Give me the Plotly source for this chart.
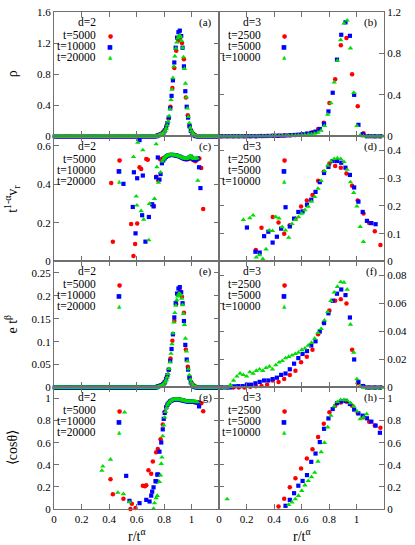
import plotly.graph_objects as go

RED, BLUE, GREEN = '#ff0000', '#0000ff', '#00dd00'
FONT = 'Liberation Serif'

LEG2 = ['t=5000', 't=10000', 't=20000']
LEG3 = ['t=2500', 't=5000', 't=10000']
X_TICKS = [0, 0.2, 0.4, 0.6, 0.8, 1.0]

# ---------------- d = 2 ----------------
R2_RED = [0.007, 0.021, 0.035, 0.049, 0.063, 0.077, 0.091, 0.105, 0.119, 0.133,
          0.147, 0.161, 0.175, 0.189, 0.203, 0.217, 0.231, 0.245, 0.259, 0.273,
          0.287, 0.301, 0.315, 0.329, 0.343, 0.357, 0.371, 0.385, 0.399, 0.413,
          0.427, 0.441, 0.455, 0.469, 0.483, 0.497, 0.511, 0.525, 0.539, 0.553,
          0.567, 0.581, 0.595, 0.609, 0.623, 0.637, 0.651, 0.665, 0.679, 0.693,
          0.707, 0.721, 0.735, 0.749, 0.763, 0.777, 0.791, 0.805, 0.819, 0.833,
          0.847, 0.861, 0.875, 0.889, 0.903, 0.917, 0.931, 0.945, 0.959, 0.973,
          0.987, 1.001, 1.015, 1.029, 1.043, 1.057, 1.071, 1.085, 1.099, 1.113,
          1.127, 1.141, 1.155, 1.169, 1.183, 1.197]
R2_BLUE = [0.005, 0.015, 0.025, 0.035, 0.045, 0.055, 0.065, 0.075, 0.085, 0.095,
           0.105, 0.115, 0.125, 0.135, 0.145, 0.155, 0.165, 0.175, 0.185, 0.195,
           0.205, 0.215, 0.225, 0.235, 0.245, 0.255, 0.265, 0.275, 0.285, 0.295,
           0.305, 0.315, 0.325, 0.335, 0.345, 0.355, 0.365, 0.375, 0.385, 0.395,
           0.405, 0.415, 0.425, 0.435, 0.445, 0.455, 0.465, 0.475, 0.485, 0.495,
           0.505, 0.515, 0.525, 0.535, 0.545, 0.555, 0.565, 0.575, 0.585, 0.595,
           0.605, 0.615, 0.625, 0.635, 0.645, 0.655, 0.665, 0.675, 0.685, 0.695,
           0.705, 0.715, 0.725, 0.735, 0.745, 0.755, 0.765, 0.775, 0.785, 0.795,
           0.805, 0.815, 0.825, 0.835, 0.845, 0.855, 0.865, 0.875, 0.885, 0.895,
           0.905, 0.915, 0.925, 0.935, 0.945, 0.955, 0.965, 0.975, 0.985, 0.995,
           1.005, 1.015, 1.025, 1.035, 1.045, 1.055, 1.065, 1.075, 1.085, 1.095,
           1.105, 1.115, 1.125, 1.135, 1.145, 1.155, 1.165, 1.175, 1.185, 1.195]
R2_GREEN = [0.004, 0.011, 0.018, 0.025, 0.032, 0.039, 0.046, 0.053, 0.060, 0.067,
            0.074, 0.081, 0.088, 0.095, 0.102, 0.109, 0.116, 0.123, 0.130, 0.137,
            0.144, 0.151, 0.158, 0.165, 0.172, 0.179, 0.186, 0.193, 0.200, 0.207,
            0.214, 0.221, 0.228, 0.235, 0.242, 0.249, 0.256, 0.263, 0.270, 0.277,
            0.284, 0.291, 0.298, 0.305, 0.312, 0.319, 0.326, 0.333, 0.340, 0.347,
            0.354, 0.361, 0.368, 0.375, 0.382, 0.389, 0.396, 0.403, 0.410, 0.417,
            0.424, 0.431, 0.438, 0.445, 0.452, 0.459, 0.466, 0.473, 0.480, 0.487,
            0.494, 0.501, 0.508, 0.515, 0.522, 0.529, 0.536, 0.543, 0.550, 0.557,
            0.564, 0.571, 0.578, 0.585, 0.592, 0.599, 0.606, 0.613, 0.620, 0.627,
            0.634, 0.641, 0.648, 0.655, 0.662, 0.669, 0.676, 0.683, 0.690, 0.697,
            0.704, 0.711, 0.718, 0.725, 0.732, 0.739, 0.746, 0.753, 0.760, 0.767,
            0.774, 0.781, 0.788, 0.795, 0.802, 0.809, 0.816, 0.823, 0.830, 0.837,
            0.844, 0.851, 0.858, 0.865, 0.872, 0.879, 0.886, 0.893, 0.900, 0.907,
            0.914, 0.921, 0.928, 0.935, 0.942, 0.949, 0.956, 0.963, 0.970, 0.977,
            0.984, 0.991, 0.998, 1.005, 1.012, 1.019, 1.026, 1.033, 1.040, 1.047,
            1.054, 1.061, 1.068, 1.075, 1.082, 1.089, 1.096, 1.103, 1.110, 1.117,
            1.124, 1.131, 1.138, 1.145, 1.152, 1.159, 1.166, 1.173, 1.180, 1.187,
            1.194]

# panel (a): rho, d=2
A2_RED = [0, 0, 0, 0, 0, 0, 0, 0, 0, 0,
          0, 0, 0, 0, 0, 0, 0, 0, 0, 0,
          0, 0, 0, 0, 0, 0, 0, 0, 0, 0,
          0, 0, 0, 0, 0, 0, 0, 0, 0, 0,
          0, 0, 0, 0, 0, 0, 0, 0, 0, 0,
          0, 0, 0, 0.01, 0.02, 0.03, 0.05, 0.08, 0.14, 0.23,
          0.38, 0.62, 0.88, 1.10, 1.23, 1.27, 1.20, 0.99, 0.50, 0.27,
          0.14, 0.06, 0.03, 0.01, 0, 0, 0, 0, 0, 0,
          0, 0, 0, 0, 0, 0]
A2_BLUE = [0, 0, 0, 0, 0, 0, 0, 0, 0, 0,
           0, 0, 0, 0, 0, 0, 0, 0, 0, 0,
           0, 0, 0, 0, 0, 0, 0, 0, 0, 0,
           0, 0, 0, 0, 0, 0, 0, 0, 0, 0,
           0, 0, 0, 0, 0, 0, 0, 0, 0, 0,
           0, 0, 0, 0, 0, 0, 0, 0, 0, 0,
           0, 0, 0, 0, 0, 0, 0, 0, 0, 0,
           0, 0, 0, 0, 0, 0.01, 0.015, 0.02, 0.03, 0.04,
           0.07, 0.11, 0.17, 0.24, 0.36, 0.52, 0.72, 0.95, 1.14, 1.27,
           1.34, 1.36, 1.29, 1.14, 0.90, 0.58, 0.38, 0.24, 0.13, 0.07,
           0.035, 0.015, 0.005, 0, 0, 0, 0, 0, 0, 0,
           0, 0, 0, 0, 0, 0, 0, 0, 0, 0]
A2_GREEN = [0, 0, 0, 0, 0, 0, 0, 0, 0, 0,
            0, 0, 0, 0, 0, 0, 0, 0, 0, 0,
            0, 0, 0, 0, 0, 0, 0, 0, 0, 0,
            0, 0, 0, 0, 0, 0, 0, 0, 0, 0,
            0, 0, 0, 0, 0, 0, 0, 0, 0, 0,
            0, 0, 0, 0, 0, 0, 0, 0, 0, 0,
            0, 0, 0, 0, 0, 0, 0, 0, 0, 0,
            0, 0, 0, 0, 0, 0, 0, 0, 0, 0,
            0, 0, 0, 0, 0, 0, 0, 0, 0, 0,
            0, 0, 0, 0, 0, 0, 0, 0, 0, 0,
            0, 0, 0, 0, 0, 0, 0, 0, 0.01, 0.015,
            0.02, 0.025, 0.03, 0.04, 0.055, 0.075, 0.10, 0.14, 0.19, 0.26,
            0.35, 0.47, 0.60, 0.75, 0.90, 1.03, 1.13, 1.21, 1.26, 1.29,
            1.30, 1.28, 1.23, 1.14, 1.02, 0.87, 0.68, 0.50, 0.36, 0.25,
            0.17, 0.11, 0.07, 0.045, 0.025, 0.015, 0.008, 0.004, 0, 0,
            0, 0, 0, 0, 0, 0, 0, 0, 0, 0,
            0, 0, 0, 0, 0, 0, 0, 0, 0, 0,
            0]

# panel (e): e t^beta, d=2
E2_RED = [0, 0, 0, 0, 0, 0, 0, 0, 0, 0,
          0, 0, 0, 0, 0, 0, 0, 0, 0, 0,
          0, 0, 0, 0, 0, 0, 0, 0, 0, 0,
          0, 0, 0, 0, 0, 0, 0, 0, 0, 0,
          0, 0, 0, 0, 0, 0, 0, 0, 0, 0,
          0, 0, 0, 0.002, 0.003, 0.005, 0.008, 0.013, 0.023, 0.038,
          0.063, 0.102, 0.145, 0.182, 0.203, 0.210, 0.198, 0.163, 0.083, 0.045,
          0.023, 0.010, 0.005, 0.002, 0, 0, 0, 0, 0, 0,
          0, 0, 0, 0, 0, 0]
E2_BLUE = [0, 0, 0, 0, 0, 0, 0, 0, 0, 0,
           0, 0, 0, 0, 0, 0, 0, 0, 0, 0,
           0, 0, 0, 0, 0, 0, 0, 0, 0, 0,
           0, 0, 0, 0, 0, 0, 0, 0, 0, 0,
           0, 0, 0, 0, 0, 0, 0, 0, 0, 0,
           0, 0, 0, 0, 0, 0, 0, 0, 0, 0,
           0, 0, 0, 0, 0, 0, 0, 0, 0, 0,
           0, 0, 0, 0, 0, 0.002, 0.003, 0.004, 0.005, 0.007,
           0.011, 0.018, 0.027, 0.039, 0.058, 0.084, 0.116, 0.153, 0.184, 0.205,
           0.216, 0.219, 0.208, 0.184, 0.145, 0.093, 0.061, 0.039, 0.021, 0.011,
           0.006, 0.002, 0.001, 0, 0, 0, 0, 0, 0, 0,
           0, 0, 0, 0, 0, 0, 0, 0, 0, 0]
E2_GREEN = [0, 0, 0, 0, 0, 0, 0, 0, 0, 0,
            0, 0, 0, 0, 0, 0, 0, 0, 0, 0,
            0, 0, 0, 0, 0, 0, 0, 0, 0, 0,
            0, 0, 0, 0, 0, 0, 0, 0, 0, 0,
            0, 0, 0, 0, 0, 0, 0, 0, 0, 0,
            0, 0, 0, 0, 0, 0, 0, 0, 0, 0,
            0, 0, 0, 0, 0, 0, 0, 0, 0, 0,
            0, 0, 0, 0, 0, 0, 0, 0, 0, 0,
            0, 0, 0, 0, 0, 0, 0, 0, 0, 0,
            0, 0, 0, 0, 0, 0, 0, 0, 0, 0,
            0, 0, 0, 0, 0, 0, 0, 0, 0.002, 0.002,
            0.003, 0.004, 0.005, 0.006, 0.009, 0.012, 0.016, 0.022, 0.030, 0.041,
            0.055, 0.074, 0.095, 0.118, 0.142, 0.163, 0.179, 0.191, 0.199, 0.204,
            0.205, 0.202, 0.194, 0.180, 0.161, 0.137, 0.107, 0.079, 0.057, 0.040,
            0.027, 0.017, 0.011, 0.007, 0.004, 0.002, 0.001, 0.001, 0, 0,
            0, 0, 0, 0, 0, 0, 0, 0, 0, 0,
            0, 0, 0, 0, 0, 0, 0, 0, 0, 0,
            0]

# panel (c): t^(1-alpha) v_r, d=2
C2_RED_X = [0.416, 0.428, 0.561, 0.578, 0.590, 0.605, 0.622, 0.634, 0.671, 0.682,
            0.726, 0.743, 0.758, 0.772, 0.791, 0.805, 0.819, 0.833, 0.847, 0.861,
            0.875, 0.889, 0.903, 0.917, 0.931, 0.945, 0.959, 0.973, 0.987, 1.001,
            1.015, 1.029, 1.043, 1.057, 1.071, 1.085]
C2_RED_Y = [0.407, 0.103, 0.194, 0.029, 0.091, 0.197, 0.489, 0.480, 0.532, 0.528,
            0.288, 0.440, 0.420, 0.530, 0.535, 0.540, 0.548, 0.552, 0.553, 0.553,
            0.552, 0.550, 0.547, 0.542, 0.538, 0.533, 0.530, 0.532, 0.536, 0.532,
            0.525, 0.520, 0.530, 0.535, 0.485, 0.273]
C2_BLUE_X = [0.505, 0.573, 0.581, 0.593, 0.605, 0.622, 0.641, 0.646, 0.665, 0.690,
             0.714, 0.724, 0.743, 0.755, 0.767, 0.775, 0.785, 0.795, 0.805, 0.815,
             0.825, 0.835, 0.845, 0.855, 0.865, 0.875, 0.885, 0.895, 0.905, 0.915,
             0.925, 0.935, 0.945, 0.955, 0.965, 0.975, 0.985, 0.995, 1.005, 1.015,
             1.025, 1.035, 1.045, 1.055, 1.065]
C2_BLUE_Y = [0.403, 0.283, 0.463, 0.146, 0.432, 0.630, 0.240, 0.446, 0.103, 0.231,
             0.297, 0.286, 0.437, 0.540, 0.425, 0.454, 0.510, 0.525, 0.535, 0.543,
             0.548, 0.551, 0.553, 0.553, 0.553, 0.552, 0.551, 0.549, 0.547, 0.544,
             0.541, 0.537, 0.534, 0.532, 0.531, 0.534, 0.540, 0.544, 0.538, 0.530,
             0.527, 0.530, 0.535, 0.489, 0.381]
C2_GREEN_X = [0.578, 0.598, 0.603, 0.609, 0.634, 0.646, 0.652, 0.690, 0.694, 0.731,
              0.743, 0.748, 0.760, 0.775, 0.788, 0.795, 0.802, 0.809, 0.816, 0.823,
              0.830, 0.837, 0.844, 0.851, 0.858, 0.865, 0.872, 0.879, 0.886, 0.893,
              0.900, 0.907, 0.914, 0.921, 0.928, 0.935, 0.942, 0.949, 0.956, 0.963,
              0.970, 0.977, 0.984, 0.991, 0.998, 1.005, 1.012, 1.019, 1.026, 1.033,
              1.040, 1.046]
C2_GREEN_Y = [0.543, 0.338, 0.291, 0.617, 0.262, 0.578, 0.218, 0.111, 0.300, 0.326,
              0.609, 0.490, 0.410, 0.463, 0.520, 0.530, 0.537, 0.543, 0.547, 0.550,
              0.552, 0.553, 0.554, 0.554, 0.554, 0.553, 0.553, 0.552, 0.551, 0.550,
              0.548, 0.547, 0.545, 0.543, 0.541, 0.539, 0.537, 0.535, 0.534, 0.534,
              0.536, 0.540, 0.545, 0.548, 0.546, 0.540, 0.535, 0.533, 0.534, 0.536,
              0.537, 0.420]

# panel (g): <cos theta>, d=2
G2_RED_X = [0.411, 0.428, 0.505, 0.556, 0.566, 0.593, 0.646, 0.661, 0.671, 0.687,
            0.707, 0.719, 0.743, 0.755, 0.775, 0.791, 0.805, 0.819, 0.833, 0.847,
            0.861, 0.875, 0.889, 0.903, 0.917, 0.931, 0.945, 0.959, 0.973, 0.987,
            1.001, 1.015, 1.029, 1.043, 1.057, 1.071, 1.085]
G2_RED_Y = [0.270, 0.134, 0.092, 0.000, 0.047, 0.009, 0.210, 0.205, 0.216, 0.350,
            0.320, 0.430, 0.513, 0.543, 0.632, 0.766, 0.880, 0.930, 0.960, 0.975,
            0.985, 0.990, 0.993, 0.993, 0.990, 0.985, 0.980, 0.975, 0.972, 0.970,
            0.970, 0.968, 0.966, 0.965, 0.962, 0.958, 0.884]
G2_BLUE_X = [0.525, 0.549, 0.622, 0.671, 0.695, 0.707, 0.714, 0.724, 0.738, 0.745,
             0.751, 0.757, 0.767, 0.780, 0.791, 0.798, 0.805, 0.815, 0.825, 0.835,
             0.845, 0.855, 0.865, 0.875, 0.885, 0.895, 0.905, 0.915, 0.925, 0.935,
             0.945, 0.955, 0.965, 0.975, 0.985, 0.995, 1.005, 1.015, 1.025, 1.035,
             1.045, 1.055]
G2_BLUE_Y = [0.300, 0.074, 0.053, 0.083, 0.068, 0.121, 0.157, 0.196, 0.252, 0.250,
             0.312, 0.312, 0.519, 0.602, 0.721, 0.816, 0.870, 0.920, 0.945, 0.962,
             0.974, 0.982, 0.988, 0.991, 0.993, 0.993, 0.992, 0.989, 0.986, 0.983,
             0.980, 0.977, 0.975, 0.973, 0.972, 0.972, 0.971, 0.970, 0.968, 0.966,
             0.963, 0.929]
G2_GREEN_X = [0.348, 0.355, 0.411, 0.464, 0.505, 0.513, 0.549, 0.724, 0.731, 0.743,
              0.751, 0.767, 0.775, 0.780, 0.785, 0.791, 0.798, 0.805, 0.812, 0.819,
              0.826, 0.833, 0.840, 0.847, 0.854, 0.861, 0.868, 0.875, 0.882, 0.889,
              0.896, 0.903, 0.910, 0.917, 0.924, 0.931, 0.938, 0.945, 0.952, 0.959,
              0.966, 0.973, 0.980, 0.987, 0.994, 1.001, 1.008, 1.015, 1.022, 1.029,
              1.036, 1.043]
G2_GREEN_Y = [0.347, 0.386, 0.448, 0.148, 0.136, 0.875, 0.062, 0.003, 0.053, 0.098,
              0.120, 0.246, 0.305, 0.410, 0.468, 0.660, 0.757, 0.830, 0.880, 0.915,
              0.940, 0.958, 0.970, 0.978, 0.984, 0.988, 0.991, 0.993, 0.994, 0.995,
              0.995, 0.994, 0.993, 0.991, 0.989, 0.987, 0.985, 0.982, 0.980, 0.978,
              0.976, 0.975, 0.974, 0.974, 0.974, 0.975, 0.975, 0.974, 0.973, 0.972,
              0.970, 0.968]

# ---------------- d = 3 ----------------
R3_RED = [0.021, 0.062, 0.103, 0.144, 0.185, 0.227, 0.268, 0.309, 0.350, 0.391,
          0.433, 0.474, 0.515, 0.556, 0.597, 0.639, 0.680, 0.721, 0.762, 0.803,
          0.845, 0.886, 0.927, 0.968, 1.009, 1.051, 1.092, 1.133, 1.174]
R3_BLUE = [0.016, 0.047, 0.078, 0.109, 0.140, 0.172, 0.203, 0.234, 0.265, 0.296,
           0.328, 0.359, 0.390, 0.421, 0.452, 0.484, 0.515, 0.546, 0.577, 0.608,
           0.640, 0.671, 0.702, 0.733, 0.764, 0.796, 0.827, 0.858, 0.889, 0.920,
           0.952, 0.983, 1.014, 1.045, 1.076, 1.108, 1.139, 1.170]
R3_GREEN = [0.012, 0.035, 0.059, 0.083, 0.106, 0.130, 0.153, 0.177, 0.201, 0.224,
            0.248, 0.271, 0.295, 0.319, 0.342, 0.366, 0.389, 0.413, 0.437, 0.460,
            0.484, 0.507, 0.531, 0.555, 0.578, 0.602, 0.625, 0.649, 0.673, 0.696,
            0.720, 0.743, 0.767, 0.791, 0.814, 0.838, 0.861, 0.885, 0.909, 0.932,
            0.956, 0.980, 1.003, 1.027, 1.050, 1.074, 1.098, 1.121, 1.145, 1.168,
            1.192]

# panel (b): rho, d=3
B3_RED = [0, 0, 0, 0, 0, 0.001, 0.001, 0.002, 0.003, 0.004,
          0.005, 0.007, 0.009, 0.012, 0.017, 0.025, 0.038, 0.070, 0.130, 0.320,
          0.550, 0.880, 0.950, 0.600, 0.290, 0.030, 0.002, 0, 0]
B3_BLUE = [0, 0, 0, 0, 0, 0, 0.001, 0.001, 0.001, 0.002,
           0.002, 0.003, 0.004, 0.005, 0.006, 0.008, 0.010, 0.012, 0.015, 0.019,
           0.025, 0.032, 0.045, 0.070, 0.120, 0.240, 0.420, 0.740, 0.980, 1.100,
           0.970, 0.400, 0.110, 0.020, 0, 0, 0, 0]
B3_GREEN = [0, 0, 0, 0, 0, 0, 0, 0, 0.001, 0.001,
            0.001, 0.001, 0.002, 0.002, 0.002, 0.003, 0.003, 0.004, 0.004, 0.005,
            0.006, 0.007, 0.008, 0.009, 0.010, 0.012, 0.014, 0.017, 0.020, 0.026,
            0.035, 0.055, 0.100, 0.210, 0.320, 0.520, 0.730, 0.930, 1.090, 1.120,
            0.850, 0.420, 0.100, 0.010, 0, 0, 0, 0, 0, 0,
            0]

# panel (f): e t^beta, d=3
F3_RED = [0, 0, 0, 0, 0, 0.0005, 0.0008, 0.001, 0.002, 0.005,
          0.004, 0.006, 0.009, 0.012, 0.018, 0.022, 0.027, 0.038, 0.046, 0.055,
          0.062, 0.063, 0.060, 0.027, 0.003, 0.001, 0, 0, 0]
F3_BLUE = [0, 0, 0, 0.0008, 0.001, 0.001, 0.002, 0.002, 0.003, 0.004,
           0.005, 0.005, 0.006, 0.007, 0.009, 0.010, 0.013, 0.017, 0.021, 0.024,
           0.026, 0.030, 0.033, 0.040, 0.046, 0.053, 0.062, 0.067, 0.070, 0.066,
           0.050, 0.020, 0.004, 0.001, 0, 0, 0, 0]
F3_GREEN = [0, 0, 0, 0.002, 0.005, 0.008, 0.010, 0.009, 0.008, 0.011,
            0.010, 0.012, 0.013, 0.012, 0.014, 0.015, 0.013, 0.016, 0.018, 0.019,
            0.021, 0.022, 0.023, 0.024, 0.025, 0.027, 0.028, 0.030, 0.032, 0.035,
            0.039, 0.042, 0.048, 0.054, 0.062, 0.068, 0.072, 0.0755, 0.075, 0.070,
            0.045, 0.025, 0.006, 0.001, 0, 0, 0, 0, 0, 0,
            0]

# panel (d): t^(1-alpha) v_r, d=3
D3_RED_X = [0.268, 0.309, 0.391, 0.433, 0.474, 0.515, 0.556, 0.597, 0.639, 0.680,
            0.721, 0.762, 0.803, 0.845, 0.886, 0.927, 0.968, 1.009, 1.051, 1.092,
            1.133, 1.174]
D3_RED_Y = [0.041, 0.121, 0.160, 0.140, 0.100, 0.130, 0.154, 0.198, 0.219, 0.239,
            0.290, 0.322, 0.352, 0.343, 0.337, 0.316, 0.272, 0.219, 0.172, 0.138,
            0.109, 0.059]
D3_BLUE_X = [0.203, 0.265, 0.296, 0.328, 0.359, 0.390, 0.421, 0.452, 0.484, 0.515,
             0.546, 0.577, 0.608, 0.640, 0.671, 0.702, 0.733, 0.764, 0.796, 0.827,
             0.858, 0.889, 0.920, 0.952, 0.983, 1.014, 1.045, 1.076, 1.108, 1.139]
D3_BLUE_Y = [0.122, 0.035, 0.032, 0.091, 0.107, 0.068, 0.089, 0.118, 0.195, 0.126,
             0.154, 0.178, 0.180, 0.204, 0.222, 0.250, 0.285, 0.318, 0.340, 0.361,
             0.361, 0.355, 0.337, 0.311, 0.266, 0.215, 0.178, 0.146, 0.138, 0.134]
D3_GREEN_X = [0.177, 0.224, 0.248, 0.271, 0.295, 0.319, 0.342, 0.366, 0.389, 0.413,
              0.437, 0.460, 0.484, 0.507, 0.531, 0.555, 0.578, 0.602, 0.625, 0.649,
              0.673, 0.696, 0.720, 0.743, 0.767, 0.791, 0.814, 0.838, 0.861, 0.885,
              0.909, 0.932, 0.956, 0.980, 1.003, 1.027, 1.050]
D3_GREEN_Y = [0.150, 0.156, 0.166, 0.015, 0.023, 0.009, 0.044, 0.112, 0.110, 0.160,
              0.155, 0.124, 0.112, 0.086, 0.135, 0.150, 0.160, 0.172, 0.185, 0.197,
              0.215, 0.232, 0.262, 0.290, 0.325, 0.345, 0.360, 0.369, 0.371, 0.369,
              0.358, 0.330, 0.285, 0.247, 0.198, 0.125, 0.071]

# panel (h): <cos theta>, d=3
H3_RED_X = [0.433, 0.474, 0.515, 0.556, 0.597, 0.639, 0.680, 0.721, 0.762, 0.803,
            0.845, 0.886, 0.927, 0.968, 1.009, 1.051, 1.092, 1.133, 1.174]
H3_RED_Y = [0.023, 0.092, 0.197, 0.278, 0.367, 0.457, 0.540, 0.651, 0.771, 0.875,
            0.935, 0.964, 0.970, 0.935, 0.869, 0.830, 0.790, 0.755, 0.735]
H3_BLUE_X = [0.484, 0.515, 0.546, 0.577, 0.608, 0.640, 0.671, 0.702, 0.733, 0.764,
             0.796, 0.827, 0.858, 0.889, 0.920, 0.952, 0.983, 1.014, 1.045, 1.076,
             1.108, 1.139, 1.170]
H3_BLUE_Y = [0.029, 0.083, 0.143, 0.211, 0.254, 0.307, 0.427, 0.502, 0.606, 0.726,
             0.820, 0.905, 0.958, 0.975, 0.979, 0.950, 0.900, 0.865, 0.845, 0.821,
             0.791, 0.755, 0.690]
H3_GREEN_X = [0.059, 0.507, 0.531, 0.555, 0.578, 0.602, 0.625, 0.649, 0.673, 0.696,
              0.720, 0.743, 0.767, 0.791, 0.814, 0.838, 0.861, 0.885, 0.909, 0.932,
              0.956, 0.980, 1.003, 1.027, 1.050, 1.074]
H3_GREEN_Y = [0.090, 0.039, 0.060, 0.090, 0.120, 0.165, 0.215, 0.255, 0.290, 0.330,
              0.430, 0.516, 0.600, 0.740, 0.845, 0.930, 0.970, 0.988, 0.988, 0.983,
              0.960, 0.930, 0.885, 0.815, 0.830, 0.860]

# ---------------- figure ----------------
panels = [
    # label, dim, series [(x, y)...], yrange, yticks, ytitle
    ('(a)', 2, [(R2_RED, A2_RED), (R2_BLUE, A2_BLUE), (R2_GREEN, A2_GREEN)],
     [0, 1.6], [0, 0.4, 0.8, 1.2, 1.6], 'ρ'),
    ('(b)', 3, [(R3_RED, B3_RED), (R3_BLUE, B3_BLUE), (R3_GREEN, B3_GREEN)],
     [0, 1.2], [0, 0.4, 0.8, 1.2], None),
    ('(c)', 2, [(C2_RED_X, C2_RED_Y), (C2_BLUE_X, C2_BLUE_Y), (C2_GREEN_X, C2_GREEN_Y)],
     [0, 0.65], [0, 0.2, 0.4, 0.6], 't<sup>1-α</sup>v<sub>r</sub>'),
    ('(d)', 3, [(D3_RED_X, D3_RED_Y), (D3_BLUE_X, D3_BLUE_Y), (D3_GREEN_X, D3_GREEN_Y)],
     [0, 0.45], [0, 0.1, 0.2, 0.3, 0.4], None),
    ('(e)', 2, [(R2_RED, E2_RED), (R2_BLUE, E2_BLUE), (R2_GREEN, E2_GREEN)],
     [0, 0.275], [0, 0.05, 0.1, 0.15, 0.2, 0.25], 'e t<sup>β</sup>'),
    ('(f)', 3, [(R3_RED, F3_RED), (R3_BLUE, F3_BLUE), (R3_GREEN, F3_GREEN)],
     [0, 0.09], [0, 0.02, 0.04, 0.06, 0.08], None),
    ('(g)', 2, [(G2_RED_X, G2_RED_Y), (G2_BLUE_X, G2_BLUE_Y), (G2_GREEN_X, G2_GREEN_Y)],
     [0, 1.1], [0, 0.2, 0.4, 0.6, 0.8, 1.0], '⟨cosθ⟩'),
    ('(h)', 3, [(H3_RED_X, H3_RED_Y), (H3_BLUE_X, H3_BLUE_Y), (H3_GREEN_X, H3_GREEN_Y)],
     [0, 1.1], [0, 0.2, 0.4, 0.6, 0.8, 1.0], None),
]

ROW_DOM = [[0.750, 1.0], [0.498, 0.750], [0.2445, 0.498], [0.0, 0.2445]]
COL_DOM = [[0.0, 0.5], [0.5, 1.0]]
STYLES = [dict(symbol='circle', size=4.5, color=RED),
          dict(symbol='square', size=4.2, color=BLUE),
          dict(symbol='triangle-up', size=4.8, color=GREEN)]
GLYPHS = [('●', RED, 6), ('■', BLUE, 6), ('▲', GREEN, 5.5)]

fig = go.Figure()
layout = dict(
    width=415, height=545,
    margin=dict(l=54, r=31, t=6, b=36),
    paper_bgcolor='white', plot_bgcolor='white',
    showlegend=False, hovermode=False,
    font=dict(family=FONT, size=11, color='black'),
)
annotations = []
axis_common = dict(showline=True, linecolor='#707070', linewidth=1, mirror='ticks',
                   ticks='inside', ticklen=5, tickcolor='#707070', tickwidth=1,
                   showgrid=False, zeroline=False, ticklabeloverflow='allow',
                   tickfont=dict(family=FONT, size=11, color='black'))

for i, (lab, dim, series, yr, yt, ytitle) in enumerate(panels):
    row, col = i // 2, i % 2
    n = '' if i == 0 else str(i + 1)
    xa, ya = 'x' + n, 'y' + n
    for (xs, ys), st in zip(series, STYLES):
        fig.add_trace(go.Scatter(
            x=xs, y=ys, mode='markers', xaxis=xa, yaxis=ya, cliponaxis=False,
            marker=dict(symbol=st['symbol'], size=st['size'], color=st['color'],
                        line=dict(width=0))))
    layout['xaxis' + n] = dict(axis_common, domain=COL_DOM[col], anchor=ya,
                               range=[0, 1.2], tickvals=X_TICKS,
                               showticklabels=(row == 3))
    layout['yaxis' + n] = dict(axis_common, domain=ROW_DOM[row], anchor=xa,
                               range=yr, tickvals=yt,
                               side='left' if col == 0 else 'right')
    # panel label
    annotations.append(dict(text=lab, xref=xa + ' domain', yref=ya + ' domain',
                            x=1, y=1, xanchor='right', yanchor='middle',
                            xshift=-5, yshift=-10, showarrow=False,
                            font=dict(family=FONT, size=11)))
    # key
    keytxt = ['d=%d' % dim] + (LEG2 if dim == 2 else LEG3)
    offs = [-10, -23, -34, -45]
    for j, (t, off) in enumerate(zip(keytxt, offs)):
        annotations.append(dict(text=t, xref=xa + ' domain', yref=ya + ' domain',
                                x=0, y=1, xanchor='right', yanchor='middle',
                                xshift=43.5, yshift=off, showarrow=False,
                                font=dict(family=FONT, size=11.5)))
        if j > 0:
            g, c, s = GLYPHS[j - 1]
            gx = 56 if i == 0 else 65
            annotations.append(dict(text=g, xref=xa + ' domain', yref=ya + ' domain',
                                    x=0, y=1, xanchor='center', yanchor='middle',
                                    xshift=gx, yshift=off, showarrow=False,
                                    font=dict(family='DejaVu Sans', size=s, color=c)))
    if ytitle:
        annotations.append(dict(text=ytitle, xref='paper', yref=ya + ' domain',
                                x=-42 / 330, y=0.5, xanchor='center', yanchor='middle',
                                textangle=-90, showarrow=False,
                                font=dict(family=FONT, size=14)))
    if row == 3:
        annotations.append(dict(text='r/t<sup>α</sup>', xref=xa + ' domain', yref='paper',
                                x=0.5, y=-26 / 503, xanchor='center', yanchor='middle',
                                showarrow=False, font=dict(family=FONT, size=14)))

layout['annotations'] = annotations
fig.update_layout(**layout)
fig.write_html('out.html', config={'displayModeBar': False, 'staticPlot': True},
               post_script="document.body.style.margin='0';")
